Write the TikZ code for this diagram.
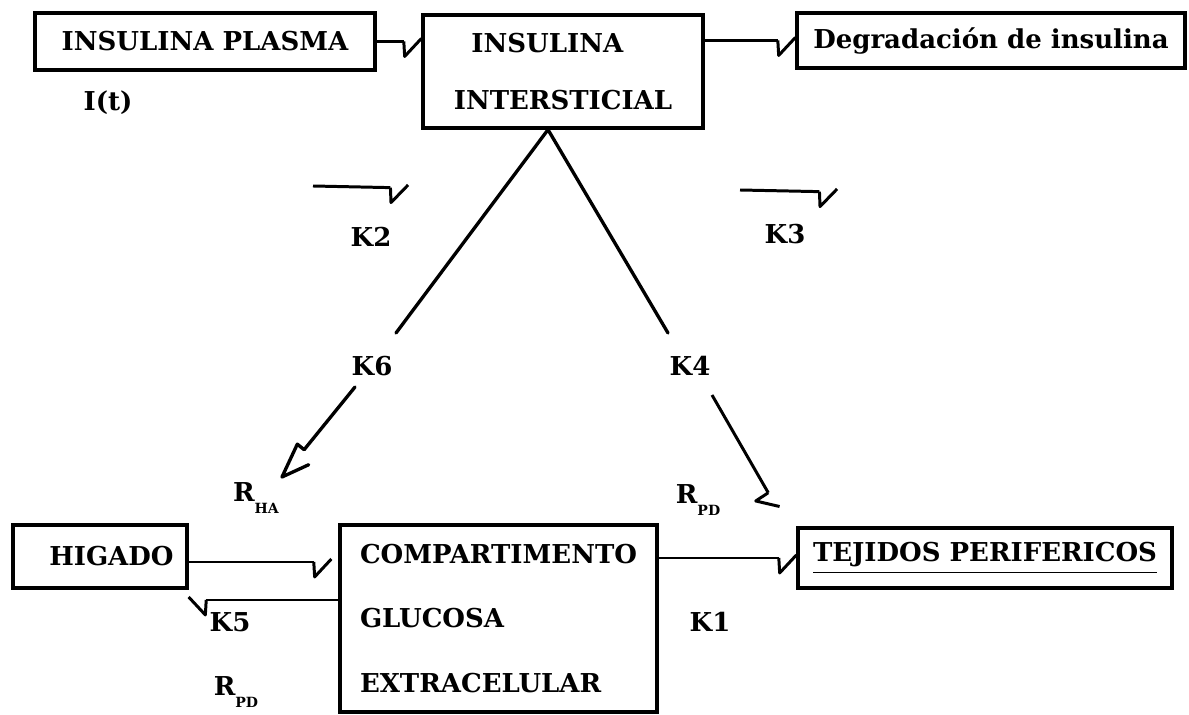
\documentclass[tikz,border=0pt]{standalone}
\usepackage{fontspec}
\setmainfont{DejaVu Serif}
\usetikzlibrary{arrows.meta, calc}

% check-mark tip: the line drops into a notch, then kicks up to the target
\pgfdeclarearrow{
  name = ChkTip,
  parameters = {\the\pgfarrowlength,\the\pgfarrowwidth},
  setup code = {
    \pgfarrowssettipend{0pt}
    \pgfarrowssetlineend{-\pgfarrowlength}
    \pgfarrowssetbackend{-\pgfarrowlength}
    \pgfarrowssavethe\pgfarrowlength
    \pgfarrowssavethe\pgfarrowwidth
  },
  drawing code = {
    \pgfsetroundjoin
    \pgfpathmoveto{\pgfqpoint{-\pgfarrowlength}{0pt}}
    \pgfpathlineto{\pgfqpoint{-.95\pgfarrowlength}{-\pgfarrowwidth}}
    \pgfpathlineto{\pgfqpoint{0pt}{.2\pgfarrowwidth}}
    \pgfusepathqstroke
  },
  defaults = {length = 10pt, width = 8.5pt}
}

% open tip with a small notch, hand drawn look
\pgfdeclarearrow{
  name = NotchTip,
  parameters = {\the\pgfarrowlength},
  setup code = {
    \pgfarrowssettipend{0pt}
    \pgfarrowssetlineend{-\pgfarrowlength}
    \pgfarrowssetbackend{-\pgfarrowlength}
    \pgfarrowssavethe\pgfarrowlength
  },
  drawing code = {
    \pgfsetroundjoin
    \pgfpathmoveto{\pgfqpoint{-\pgfarrowlength}{0pt}}
    \pgfpathlineto{\pgfqpoint{-\pgfarrowlength}{-.25\pgfarrowlength}}
    \pgfpathlineto{\pgfqpoint{0pt}{0pt}}
    \pgfpathlineto{\pgfqpoint{-.75\pgfarrowlength}{.37\pgfarrowlength}}
    \pgfusepathqstroke
  },
  defaults = {length = 20pt}
}

\newcommand{\rsub}[1]{R\raisebox{-7pt}{\fontsize{8}{9}\selectfont #1}}

\begin{document}
\begin{tikzpicture}[
  x=0.02cm, y=-0.02cm,
  box/.style={draw, line width=1.9pt, inner sep=0pt,
              font=\bfseries\fontsize{14.8}{18}\selectfont},
  lbl/.style={inner sep=1pt, font=\bfseries\fontsize{14.8}{18}\selectfont},
  conn/.style={line width=1.7pt, line join=round, -{ChkTip}},
  edge/.style={line width=1.9pt, line cap=round},
]
\useasboundingbox (0,0) rectangle (1189,715);

% === Boxes ===
\node[box, minimum width=6.8cm, minimum height=1.14cm] (plasma) at (205,41.5) {INSULINA PLASMA};
\node[box, minimum width=5.6cm, minimum height=2.26cm, align=left] (inter) at (563,71.5)
  {\hspace*{10pt}INSULINA\\[14.3pt]INTERSTICIAL};
\node[box, minimum width=7.76cm, minimum height=1.1cm] (degr) at (991,40.5) {Degradación de insulina};

\node[box, minimum width=3.48cm, minimum height=1.26cm] (higado) at (100,556.5) {\hspace*{13pt}HIGADO};
\node[box, minimum width=6.34cm, minimum height=3.74cm, align=left] (comp) at (498.5,618.5)
  {COMPARTIMENTO\\[18.9pt]GLUCOSA\\[18.9pt]EXTRACELULAR};
\node[box, minimum width=7.48cm, minimum height=1.2cm] (tej) at (985,558)
  {\raisebox{-2pt}{\underline{TEJIDOS PERIFERICOS\rule[-5pt]{0pt}{0pt}}}};

% === Labels ===
\node[lbl] (it) at (108,103) {I(t)};
\node[lbl] (k2) at (371,237) {K2};
\node[lbl] (k3) at (785,234) {K3};
\node[lbl] (k6) at (372,366) {K6};
\node[lbl] (k4) at (690,366) {K4};
\node[lbl] (k5) at (230,622) {K5};
\node[lbl] (k1) at (710,622) {K1};
\node[lbl] (rha) at (256,498) {\rsub{HA}};
\node[lbl] (rpd1) at (698,500) {\rsub{PD}};
\node[lbl] (rpd2) at (236,692) {\rsub{PD}};

% === Free ends ===
\coordinate (apex) at ($(inter.south)+(-15,0)$);
\coordinate (legl) at (396,333);
\coordinate (legr) at (668,333);
\coordinate (k2a) at (313,186);
\coordinate (k2b) at (408,188);
\coordinate (k3a) at (740,190);
\coordinate (k3b) at (837,192);
\coordinate (k6a) at (355,387);
\coordinate (k6b) at (282,477);
\coordinate (k4a) at (712,395);
\coordinate (k4b) at (777,508);
\coordinate (k5a) at (comp.west |- 0,600);

% === Connectors ===
\draw[conn] (plasma.east) -- (plasma.east -| inter.west);
\draw[conn] (degr.west -| inter.east) -- (degr.west);
\draw[conn] (k2a) -- (k2b);
\draw[conn] (k3a) -- (k3b);

\draw[edge] (legl) -- (apex) -- (legr);
\draw[edge, -{NotchTip}] (k6a) -- (k6b);
\draw[conn] (k4a) -- (k4b);

\draw[conn, shorten >=4pt] (higado.east |- 0,562) -- (comp.west |- 0,562);
\draw[conn, -{ChkTip[swap]}] (k5a) -- (higado.east |- k5a);
\draw[conn] (tej.west -| comp.east) -- (tej.west);

\end{tikzpicture}
\end{document}
